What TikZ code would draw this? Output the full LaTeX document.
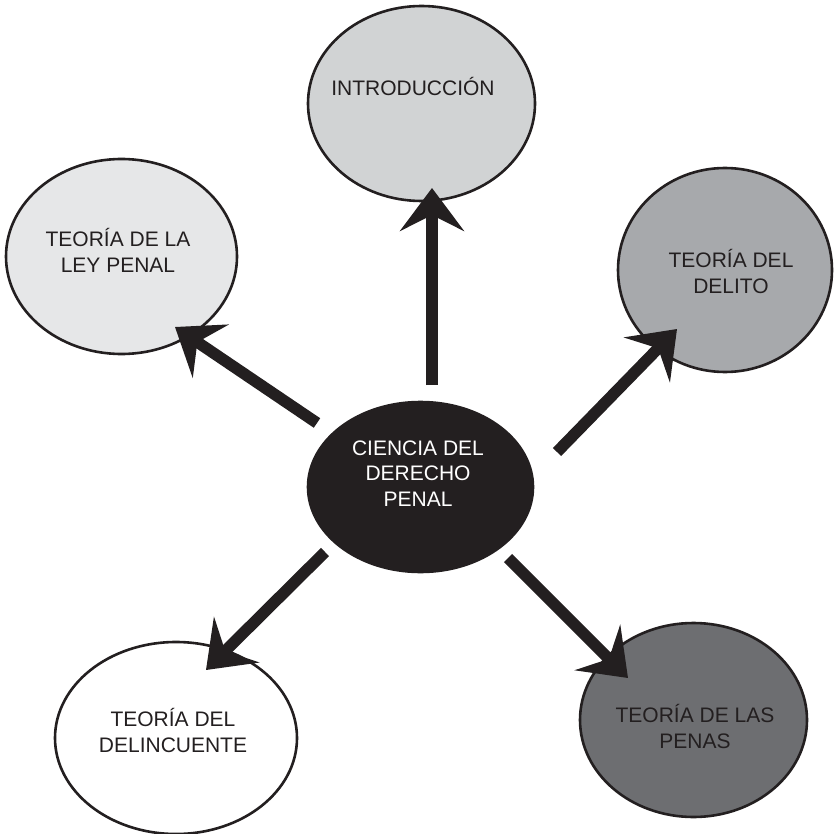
\documentclass[tikz,border=0pt]{standalone}
\usepackage{fontspec}
\setmainfont{Liberation Sans}
\usetikzlibrary{shapes.geometric,arrows.meta}

\definecolor{ink}{HTML}{231F20}
\definecolor{grayA}{HTML}{D1D3D4}
\definecolor{grayB}{HTML}{E6E7E8}
\definecolor{grayC}{HTML}{A7A9AC}
\definecolor{grayD}{HTML}{6D6E71}

\tikzset{
  bubble/.style={ellipse, draw=ink, line width=2.6pt, inner sep=0pt},
  % multi-line labels are anchored at the baseline of their last line
  lbl/.style={font=\fontsize{21}{25.5}\selectfont, text=ink, align=center, inner sep=0pt, anchor=base},
  arr/.style={draw=ink, line width=11.5pt,
    -{Stealth[length=43pt, width=64pt, inset=16pt]}},
}

\begin{document}
\begin{tikzpicture}[x=1pt, y=-1pt]
  \useasboundingbox (0,0) rectangle (833,834);

  % the six ellipses
  \node[bubble, fill=grayA, minimum width=227pt, minimum height=195pt] (intro) at (421.5,103.5) {};
  \node[bubble, fill=grayB, minimum width=231pt, minimum height=195pt] (ley)   at (121.5,256.5) {};
  \node[bubble, fill=grayC, minimum width=214pt, minimum height=204pt] (delito) at (725,270) {};
  \node[bubble, fill=ink,   minimum width=225pt, minimum height=170pt] (centro) at (420.5,487) {};
  \node[bubble, fill=white, minimum width=242pt, minimum height=192pt] (delinc) at (176,738) {};
  \node[bubble, fill=grayD, minimum width=227pt, minimum height=194pt] (penas) at (693.5,720) {};

  % labels
  \node[lbl] (t-intro)  at (413,96)  {INTRODUCCIÓN};
  \node[lbl] (t-ley)    at (118,272) {TEORÍA DE LA\\LEY PENAL};
  \node[lbl] (t-delito) at (731,293) {TEORÍA DEL\\DELITO};
  \node[lbl, text=white] (t-centro) at (418,506) {CIENCIA DEL\\DERECHO\\ PENAL};
  \node[lbl] (t-delinc) at (173,752) {TEORÍA DEL\\DELINCUENTE};
  \node[lbl] (t-penas)  at (695,748) {TEORÍA DE LAS\\PENAS};

  % arrow ends
  \coordinate (s-intro)  at (432,385);  \coordinate (e-intro)  at (432,188);
  \coordinate (s-ley)    at (317,423);  \coordinate (e-ley)    at (175,327);
  \coordinate (s-delito) at (557,452);  \coordinate (e-delito) at (677,329);
  \coordinate (s-delinc) at (325,552);  \coordinate (e-delinc) at (206,670);
  \coordinate (s-penas)  at (508,558);  \coordinate (e-penas)  at (628,678);

  \draw[arr] (s-intro)  -- (e-intro);
  \draw[arr] (s-ley)    -- (e-ley);
  \draw[arr] (s-delito) -- (e-delito);
  \draw[arr] (s-delinc) -- (e-delinc);
  \draw[arr] (s-penas)  -- (e-penas);
\end{tikzpicture}
\end{document}
